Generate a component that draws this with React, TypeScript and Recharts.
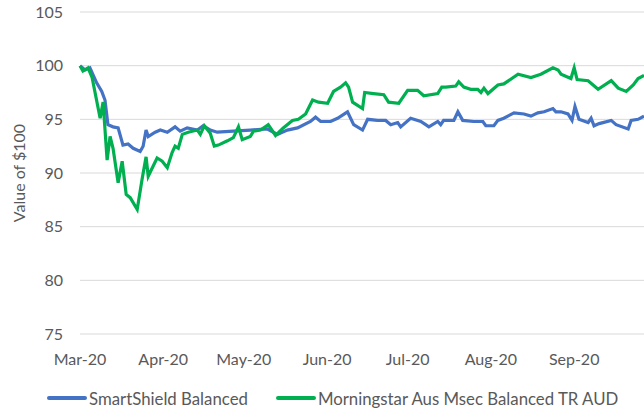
import { LineChart, Line, XAxis, YAxis, CartesianGrid, Legend } from "recharts";

// days counted from 1 Mar 2020
const monthTicks = [0, 31, 61, 92, 122, 153, 184];
const monthLabels = ["Mar-20", "Apr-20", "May-20", "Jun-20", "Jul-20", "Aug-20", "Sep-20"];
const valueTicks = [75, 80, 85, 90, 95, 100, 105];

const smartShieldDays = [
  0, 1.9, 3.7, 6.2, 8.1, 9.3, 10.4, 12.3, 14.2, 16, 17.9, 19.8, 22.4, 23.5, 24.6, 25.4, 28, 29.9,
  32.5, 35.4, 37.3, 39.9, 43.7, 45.9, 48.5, 51.1, 57.1, 63.4, 69.8, 73.5, 77.2, 81, 85.8, 87.7,
  89.6, 93.3, 95.9, 99.6, 101.9, 105.2, 107.1, 110.8, 113.8, 115.7, 118.3, 119.4, 123.1, 126.9,
  128.7, 129.9, 133.2, 134.3, 135.4, 139.2, 140.7, 142.5, 146.6, 150, 151.1, 154.1, 155.6, 157.8,
  161.6, 165.3, 167.9, 170.5, 172.8, 176.1, 177.2, 179.1, 181.7, 183.2, 184.3, 185.8, 189.2,
  190.3, 191.4, 193.3, 197.8, 199.6, 204.1, 205.2, 207.8, 210,
];
const smartShieldValues = [
  100, 99.6, 99.8, 98.4, 97.6, 96.8, 94.5, 94.3, 94.2, 92.6, 92.7, 92.3, 92.0, 92.5, 94.0, 93.4,
  93.8, 94.0, 93.8, 94.3, 93.9, 94.2, 94.0, 94.4, 94.0, 93.8, 93.9, 94.0, 94.1, 93.6, 94.0, 94.2,
  94.8, 95.2, 94.8, 94.8, 95.1, 95.7, 94.5, 94.0, 95.0, 94.9, 94.9, 94.5, 94.7, 94.3, 95.1, 94.8,
  94.5, 94.3, 94.8, 94.5, 94.9, 94.9, 95.7, 94.9, 94.8, 94.8, 94.4, 94.4, 94.9, 95.1, 95.6, 95.5,
  95.3, 95.6, 95.7, 96.0, 95.7, 95.7, 95.5, 94.9, 96.2, 95.0, 94.7, 95.1, 94.4, 94.6, 94.9, 94.5,
  94.1, 94.9, 95.0, 95.3,
];

const morningstarDays = [
  0, 1.1, 3, 4.5, 7.5, 8.6, 10.1, 11.2, 12.3, 14.2, 15.7, 17.2, 18.7, 21.3, 23.1, 24.6, 25.4,
  28.7, 30.6, 32.5, 34.3, 35.4, 36.6, 38.1, 40.3, 43.7, 44.8, 46.3, 48.5, 50, 51.5, 54.9, 57.1,
  59, 60.4, 63.4, 64.6, 67.2, 70.1, 72.8, 75.7, 79.1, 81.3, 84, 86.6, 88.8, 92.2, 94.4, 97, 98.9,
  100, 101.5, 105.2, 106, 109.3, 113.1, 114.9, 118.7, 122, 125.7, 128, 133.2, 134.7, 136.2, 139.9,
  141, 142.9, 145.5, 148.1, 149.3, 150.4, 151.9, 155.6, 157.8, 163.1, 167.9, 171.6, 176.1, 178,
  179.1, 182.8, 184, 185.1, 189.2, 192.9, 197.8, 200.4, 203.4, 206, 207.8, 210,
];
const morningstarValues = [
  100, 99.5, 99.8, 98.9, 95.1, 96.6, 91.2, 93.4, 92.3, 89.1, 91.1, 88.0, 87.7, 86.6, 89.4, 91.5,
  89.7, 91.4, 91.1, 90.5, 91.9, 92.5, 92.3, 93.6, 93.8, 94.0, 93.6, 94.4, 93.7, 92.5, 92.6, 93.0,
  93.3, 94.3, 93.1, 93.4, 93.9, 94.0, 94.5, 93.5, 94.2, 94.9, 95.0, 95.5, 96.8, 96.6, 96.5, 97.6,
  98.0, 98.4, 98.0, 96.6, 96.0, 97.5, 97.4, 97.3, 96.6, 96.5, 97.7, 97.7, 97.2, 97.4, 98.0, 98.0,
  98.1, 98.5, 98.0, 97.8, 97.8, 97.5, 97.9, 97.4, 98.2, 98.3, 99.2, 98.9, 99.2, 99.8, 99.6, 99.2,
  98.8, 99.8, 98.7, 98.6, 97.8, 98.6, 97.9, 97.6, 98.2, 98.8, 99.1,
];

const smartShieldData = smartShieldDays.map((day, i) => ({ day, value: smartShieldValues[i] }));
const morningstarData = morningstarDays.map((day, i) => ({ day, value: morningstarValues[i] }));

const BLUE = "#4472C4";
const GREEN = "#00B050";
const FONT = "Lato, 'Noto Sans', sans-serif";
const TEXT = "#595959";

function AxisTitle() {
  return (
    <text
      x={18}
      y={173}
      transform="rotate(-90 18 173)"
      textAnchor="middle"
      dominantBaseline="central"
      fill={TEXT}
      fontSize={16}
      fontFamily={FONT}
    >
      Value of $100
    </text>
  );
}

function ChartLegend() {
  const items = [
    { name: "SmartShield Balanced", color: BLUE },
    { name: "Morningstar Aus Msec Balanced TR AUD", color: GREEN },
  ];
  return (
    <div style={{ display: "flex", alignItems: "center", paddingLeft: 47, height: 20 }}>
      {items.map((item, i) => (
        <div key={item.name} style={{ display: "flex", alignItems: "center", marginRight: i === 0 ? 28 : 0 }}>
          <svg width={40} height={6} style={{ marginRight: 2 }}>
            <line x1={2} y1={3} x2={38} y2={3} stroke={item.color} strokeWidth={4} strokeLinecap="round" />
          </svg>
          <span style={{ fontFamily: FONT, fontSize: 16.8, color: TEXT }}>{item.name}</span>
        </div>
      ))}
    </div>
  );
}

export default function App() {
  return (
    <div style={{ position: "absolute", left: 0, top: 0 }}>
      <LineChart width={644} height={408} margin={{ top: 12, right: 0, left: 0, bottom: 0 }}>
        <CartesianGrid vertical={false} stroke="#D9D9D9" strokeWidth={1} />
        <XAxis
          type="number"
          dataKey="day"
          domain={[0, 210]}
          ticks={monthTicks}
          tickFormatter={(d: number) => monthLabels[monthTicks.indexOf(d)]}
          axisLine={false}
          tickLine={false}
          tickMargin={14}
          height={54}
          tick={{ fill: TEXT, fontSize: 16, fontFamily: FONT }}
          allowDuplicatedCategory={false}
        />
        <YAxis
          domain={[75, 105]}
          ticks={valueTicks}
          axisLine={false}
          tickLine={false}
          tickMargin={11}
          width={80}
          tick={{ fill: TEXT, fontSize: 16, fontFamily: FONT }}
          label={<AxisTitle />}
        />
        <Legend verticalAlign="bottom" align="left" content={<ChartLegend />} />
        <Line
          data={smartShieldData}
          dataKey="value"
          name="SmartShield Balanced"
          stroke={BLUE}
          strokeWidth={3.2}
          dot={false}
          type="linear"
          isAnimationActive={false}
        />
        <Line
          data={morningstarData}
          dataKey="value"
          name="Morningstar Aus Msec Balanced TR AUD"
          stroke={GREEN}
          strokeWidth={3.2}
          dot={false}
          type="linear"
          isAnimationActive={false}
        />
      </LineChart>
    </div>
  );
}
